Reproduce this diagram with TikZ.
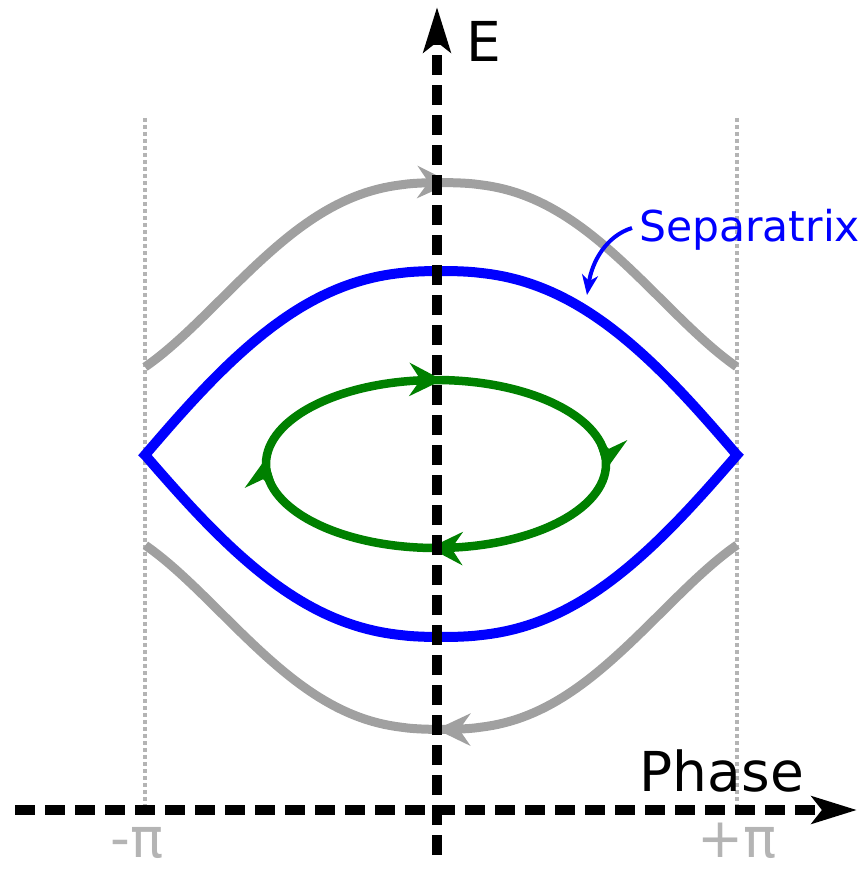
\documentclass[tikz,border=0pt]{standalone}
\usepackage{fontspec}
\setmainfont{DejaVu Sans}
\usetikzlibrary{arrows.meta,decorations.markings}
\definecolor{orbitgray}{RGB}{160,160,160}
\definecolor{labelgray}{RGB}{180,180,180}
\definecolor{sepblue}{RGB}{0,0,255}
\definecolor{oscgreen}{RGB}{0,128,0}
\begin{document}
\begin{tikzpicture}[x=1pt,y=-1pt,
  axisline/.style={line width=9.5pt, dash pattern=on 20pt off 10pt,
    -{Stealth[length=45pt,width=27pt,inset=10pt]}},
  boundary/.style={labelgray, line width=3.5pt, dash pattern=on 4pt off 3pt},
  orbit/.style={orbitgray, line width=9pt, line cap=butt, line join=round},
  midarrow/.style={postaction={decorate}, decoration={markings,
    mark=at position #1 with {\arrow{Stealth[length=34pt,width=32pt,inset=11pt]}}}},
  greenarrows/.style={postaction={decorate}, decoration={markings,
    mark=at position 0.008 with {\arrow{Stealth[length=33pt,width=33pt,inset=11pt]}},
    mark=at position 0.258 with {\arrow{Stealth[length=33pt,width=33pt,inset=11pt]}},
    mark=at position 0.508 with {\arrow{Stealth[length=33pt,width=33pt,inset=11pt]}},
    mark=at position 0.758 with {\arrow{Stealth[length=33pt,width=33pt,inset=11pt]}}}},
  bigtext/.style={anchor=base west, inner sep=0pt, font=\fontsize{55}{60}\selectfont},
  pilabel/.style={bigtext, text=labelgray}
]
\useasboundingbox (0,0) rectangle (866,869);

% boundaries at -pi and +pi
\coordinate (lbtop) at (145,118);
\coordinate (lbbot) at (145,808);
\coordinate (rbtop) at (737,118);
\coordinate (rbbot) at (737,808);
\draw[boundary] (lbtop) -- (lbbot);
\draw[boundary] (rbtop) -- (rbbot);

% rotating (gray) orbits
\draw[orbit, midarrow=0.515] plot[domain=-1:1, samples=100]
  ({441+296*\x}, {367-104.4*(cos(140*(abs(\x)+0.0001)^1.25)+0.766)});
\draw[orbit, midarrow=0.507] plot[domain=-1:1, samples=100]
  ({441-296*\x}, {545+104.4*(cos(140*(abs(\x)+0.0001)^1.25)+0.766)});

% separatrix
\draw[sepblue, line width=10pt, line join=miter]
  plot[domain=-1:1, samples=100] ({441+296*\x}, {455-184*cos(90*(abs(\x)+0.0001)^1.2)})
  -- plot[domain=-1:1, samples=100] ({441-296*\x}, {455+182*cos(90*(abs(\x)+0.0001)^1.2)}) -- cycle;

% oscillating orbit
\coordinate (osccenter) at (436,464);
\draw[oscgreen, line width=8.5pt, greenarrows] (osccenter) ellipse [x radius=170, y radius=84];

% axes
\coordinate (xstart) at (15,810);
\coordinate (xend) at (857,810);
\coordinate (ystart) at (437,855);
\coordinate (yend) at (437,7);
\draw[axisline] (xstart) -- (xend);
\draw[axisline] (ystart) -- (yend);

% labels
\node[bigtext] (elabel) at (466,62) {E};
\node[bigtext] (phaselabel) at (639.5,791) {Phase};
\node[pilabel] (minuspi) at (110,857) {-π};
\node[pilabel] (pluspi) at (697,857) {+π};
\node[anchor=base west, inner sep=0pt, text=sepblue, font=\fontsize{42.5}{48}\selectfont]
  (septext) at (639,241) {Separatrix};
\coordinate (sepstart) at (632,228);
\coordinate (septip) at (587,295);
\draw[sepblue, line width=4pt, -{Stealth[length=20pt,width=16pt,inset=6pt]}]
  (sepstart) .. controls (606,236) and (592,262) .. (septip);
\end{tikzpicture}
\end{document}
